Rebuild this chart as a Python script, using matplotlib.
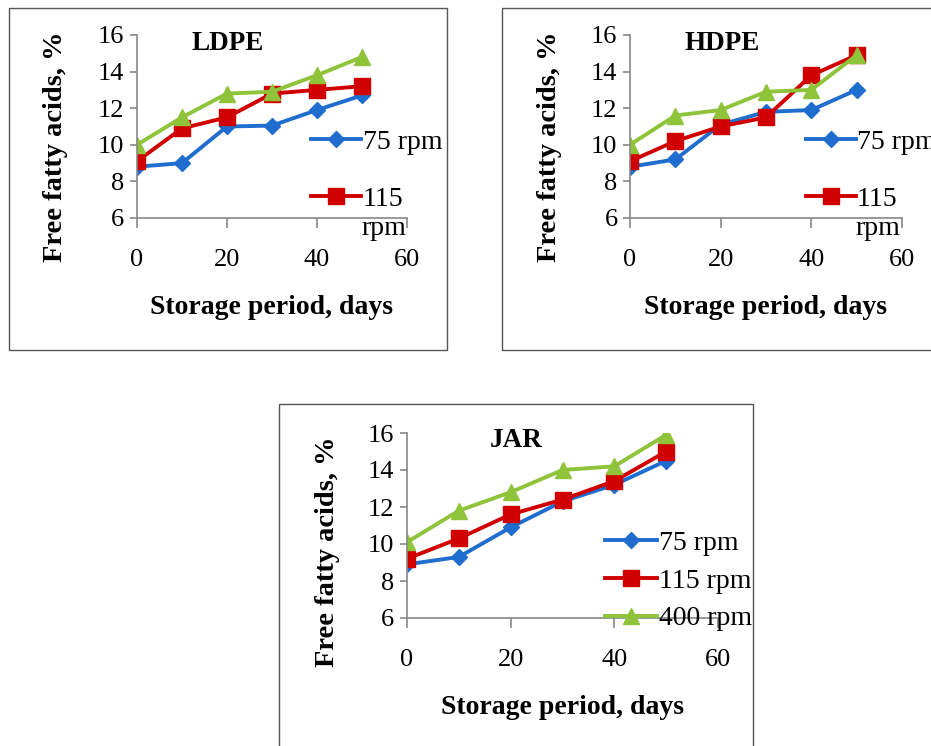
import matplotlib
matplotlib.use("Agg")
import matplotlib.pyplot as plt
from matplotlib.patches import Rectangle

plt.rcParams['font.family'] = ['Liberation Serif', 'DejaVu Serif']

# data
days = [0, 10, 20, 30, 40, 50]
series_names = ['75 rpm', '115 rpm', '400 rpm']

ldpe_75 = [8.8, 9.0, 11.0, 11.05, 11.9, 12.7]
ldpe_115 = [9.1, 10.9, 11.5, 12.8, 13.0, 13.2]
ldpe_400 = [10.0, 11.5, 12.8, 12.9, 13.8, 14.8]

hdpe_75 = [8.8, 9.2, 11.1, 11.8, 11.9, 13.0]
hdpe_115 = [9.1, 10.2, 11.0, 11.5, 13.8, 14.9]
hdpe_400 = [10.0, 11.6, 11.9, 12.9, 13.0, 14.9]

jar_75 = [8.9, 9.3, 10.9, 12.3, 13.2, 14.5]
jar_115 = [9.2, 10.3, 11.6, 12.4, 13.4, 15.0]
jar_400 = [10.1, 11.8, 12.8, 14.0, 14.2, 15.9]

colors = ['#1F6ECF', '#D00000', '#8EC33A']
markers = ['D', 's', '^']
msizes = [8, 11, 11]

W, H = 931, 746
fig = plt.figure(figsize=(W / 100, H / 100), dpi=100)


def px_axes(left, right, top, bottom):
    return fig.add_axes([left / W, 1 - bottom / H, (right - left) / W, (bottom - top) / H])


def box(left, right, top, bottom):
    fig.patches.append(Rectangle((left / W, 1 - bottom / H), (right - left) / W, (bottom - top) / H,
                                 transform=fig.transFigure, fill=False, edgecolor='#555555',
                                 linewidth=1.0))


def panel(ax, data, title, title_xy, ylab_x, xlab_y):
    lines = []
    for vals, c, m, ms, nm in zip(data, colors, markers, msizes, series_names):
        ln, = ax.plot(days, vals, color=c, marker=m, markersize=ms, linewidth=2.8, label=nm)
        lines.append(ln)
    ax.set_xlim(0, 60)
    ax.set_ylim(6, 16)
    ax.set_xticks([0, 20, 40, 60])
    ax.set_yticks([6, 8, 10, 12, 14, 16])
    for s in ['top', 'right']:
        ax.spines[s].set_visible(False)
    for s in ['left', 'bottom']:
        ax.spines[s].set_color('#888888')
        ax.spines[s].set_linewidth(1.2)
    ax.tick_params(axis='x', direction='out', length=7, width=1.2, color='#888888',
                   labelsize=19, pad=15)
    ax.tick_params(axis='y', direction='out', length=5, width=1.2, color='#888888',
                   labelsize=19, pad=4)
    ax.set_facecolor('none')
    ax.text(title_xy[0], title_xy[1], title, transform=ax.transAxes, ha='center', va='center',
            fontsize=19.5, fontweight='bold')
    ax.set_xlabel('Storage period, days', fontsize=20, fontweight='bold')
    ax.set_ylabel('Free fatty acids, %', fontsize=20.5, fontweight='bold')
    ax.xaxis.set_label_coords(0.5, xlab_y)
    ax.xaxis.label.set_va('center')
    ax.yaxis.set_label_coords(ylab_x, 0.39)
    ax.yaxis.label.set_va('center')
    return lines


# LDPE
box(9, 447, 8, 350)
ax1 = px_axes(137, 407, 35, 218)
l1 = panel(ax1, [ldpe_75, ldpe_115, ldpe_400], 'LDPE', (0.337, 0.955), -0.30, -0.49)
ax1.legend(l1[:2], ['75 rpm', '115'], loc='upper left', bbox_to_anchor=(0.605, 0.545),
           frameon=False, fontsize=20, handlelength=1.8, handletextpad=0.05,
           labelspacing=1.15, borderaxespad=0)
ax1.text(0.83, -0.06, 'rpm', transform=ax1.transAxes, fontsize=20, va='center', ha='left')

# HDPE
box(502, 940, 8, 350)
ax2 = px_axes(630, 902, 35, 218)
l2 = panel(ax2, [hdpe_75, hdpe_115, hdpe_400], 'HDPE', (0.338, 0.955), -0.295, -0.49)
ax2.legend(l2[:2], ['75 rpm', '115'], loc='upper left', bbox_to_anchor=(0.605, 0.545),
           frameon=False, fontsize=20, handlelength=1.8, handletextpad=0.05,
           labelspacing=1.15, borderaxespad=0)
ax2.text(0.83, -0.06, 'rpm', transform=ax2.transAxes, fontsize=20, va='center', ha='left')

# JAR
box(279, 753, 404, 760)
ax3 = px_axes(407, 718, 433, 618)
l3 = panel(ax3, [jar_75, jar_115, jar_400], 'JAR', (0.35, 0.96), -0.257, -0.486)
ax3.yaxis.set_label_coords(-0.257, 0.357)
ax3.legend(l3, series_names, loc='upper left', bbox_to_anchor=(0.6, 0.535),
           frameon=False, fontsize=20, handlelength=1.9, handletextpad=0.05,
           labelspacing=0.45, borderaxespad=0)

fig.savefig('out.png', dpi=100)
